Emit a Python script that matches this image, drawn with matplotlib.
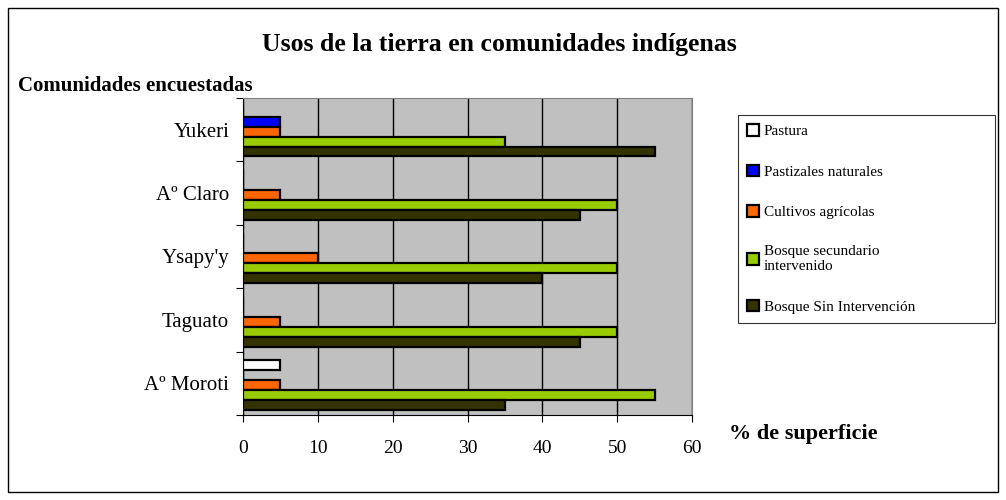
import numpy as np
import matplotlib.pyplot as plt
from matplotlib.patches import Rectangle

# data (bottom to top on the chart)
comunidades = ["Aº Moroti", "Taguato", "Ysapy'y", "Aº Claro", "Yukeri"]
series = ["Pastura", "Pastizales naturales", "Cultivos agrícolas",
          "Bosque secundario\nintervenido", "Bosque Sin Intervención"]
pastura = [5, 0, 0, 0, 0]
pastizales = [0, 0, 0, 0, 5]
cultivos = [5, 5, 10, 5, 5]
bosque_sec = [55, 50, 50, 50, 35]
bosque_sin = [35, 45, 40, 45, 55]
colores = ["#FFFFFF", "#0000FF", "#FF6600", "#99CC00", "#333300"]

plt.rcParams['font.family'] = ['Liberation Serif', 'DejaVu Serif']

fig = plt.figure(figsize=(10.06, 5), dpi=100)
fig.patches.append(Rectangle((8/1006, 8/500), 990/1006, 484/500, transform=fig.transFigure,
                             fill=False, edgecolor='black', lw=1))

ax = fig.add_axes([243/1006, 1 - 415/500, 449/1006, 317/500])
ax.set_facecolor('#C0C0C0')

valores = [pastura, pastizales, cultivos, bosque_sec, bosque_sin]
y = np.arange(len(comunidades))
h = 0.157
for i, (vals, c) in enumerate(zip(valores, colores)):
    offs = (2 - i) * h - 0.03
    ax.barh(y + offs, vals, height=h, color=c, edgecolor='black', lw=1.6,
            label=series[i], zorder=3)

ax.set_xlim(0, 60)
ax.set_ylim(-0.5, 4.5)
ax.set_xticks(range(0, 61, 10))
ax.set_yticks(np.arange(-0.5, 4.6, 1), minor=False)
ax.set_yticklabels([])
ax.set_yticks(y, minor=True)
ax.set_yticklabels(comunidades, minor=True, fontsize=15)
ax.tick_params(axis='y', which='minor', length=0, pad=10)
ax.tick_params(axis='y', which='major', length=5, direction='out')
ax.tick_params(axis='x', length=5, labelsize=14, pad=13)
ax.grid(axis='x', color='black', lw=1, zorder=1)
for s in ['top', 'right']:
    ax.spines[s].set_color('#808080')
for s in ['left', 'bottom']:
    ax.spines[s].set_color('black')

fig.text(499/1006, 1 - 44/500, "Usos de la tierra en comunidades indígenas",
         ha='center', va='center', fontsize=18.5, fontweight='bold')
fig.text(18/1006, 1 - 86/500, "Comunidades encuestadas", ha='left', va='center',
         fontsize=15, fontweight='bold')
fig.text(729/1006, 1 - 434/500, "% de superficie", ha='left', va='center',
         fontsize=16, fontweight='bold')

leg = fig.legend(loc='upper left', mode='expand',
                 bbox_to_anchor=(738/1006, 1 - 325/500, 257/1006, 210/500),
                 fontsize=11, frameon=True, fancybox=False, edgecolor='black',
                 handlelength=0.8, handleheight=0.8, handletextpad=0.3,
                 labelspacing=1.72, borderpad=0.6, borderaxespad=0)
leg.get_frame().set_linewidth(0.8)

fig.savefig('out.png', dpi=100)
